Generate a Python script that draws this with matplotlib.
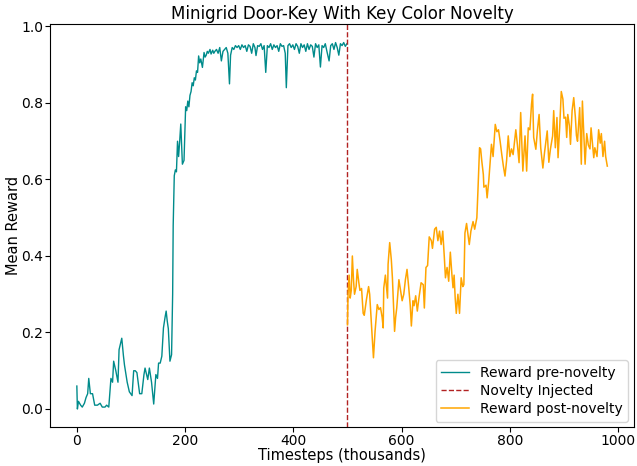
import numpy as np
import matplotlib.pyplot as plt

# pre-novelty reward (timesteps in thousands, mean reward)
pre_x = [0, 1, 3, 7, 10, 14, 17, 20, 22, 25, 29, 33, 38, 43, 47, 52, 55, 59, 63, 66,
         68, 72, 76, 78, 83, 86, 88, 93, 97, 102, 105, 108, 111, 116, 120, 124, 126, 131, 134, 138,
         142, 146, 149, 151, 154, 157, 160, 163, 165, 167, 169, 172, 175, 177, 178, 180, 182, 184, 186, 188,
         190, 192, 195, 198, 201, 203, 205, 207, 209, 211, 213, 215, 217, 219, 221, 223, 225, 227, 229, 232,
         235, 237, 239, 241, 243, 246, 248, 251, 253, 255, 258, 261, 264, 267, 270, 273, 276, 279, 282, 284,
         287, 290, 293, 296, 299, 302, 305, 308, 311, 314, 317, 320, 323, 326, 329, 331, 334, 337, 340, 343,
         346, 349, 352, 355, 358, 361, 364, 367, 370, 373, 376, 379, 382, 385, 387, 390, 393, 396, 399, 402,
         405, 408, 411, 414, 417, 420, 423, 426, 429, 432, 435, 438, 441, 444, 447, 450, 453, 456, 459, 462,
         466, 469, 472, 475, 478, 481, 484, 487, 490, 493, 496, 499]
pre_y = [0.06, 0.0, 0.02, 0.01, 0.005, 0.015, 0.03, 0.04, 0.08, 0.04, 0.04, 0.01, 0.01, 0.015, 0.005, 0.005, 0.01, 0.005, 0.08, 0.07,
         0.125, 0.10, 0.07, 0.155, 0.185, 0.14, 0.115, 0.07, 0.045, 0.035, 0.10, 0.10, 0.095, 0.04, 0.04, 0.09, 0.107, 0.077, 0.107, 0.07,
         0.013, 0.09, 0.08, 0.12, 0.12, 0.138, 0.212, 0.24, 0.256, 0.23, 0.21, 0.125, 0.142, 0.30, 0.48, 0.61, 0.625, 0.62, 0.70, 0.66,
         0.70, 0.745, 0.64, 0.65, 0.79, 0.78, 0.805, 0.79, 0.82, 0.83, 0.853, 0.845, 0.866, 0.86, 0.884, 0.88, 0.923, 0.905, 0.915, 0.893,
         0.932, 0.92, 0.925, 0.935, 0.93, 0.94, 0.928, 0.938, 0.93, 0.935, 0.94, 0.93, 0.945, 0.91, 0.935, 0.94, 0.945, 0.93, 0.85, 0.925,
         0.945, 0.94, 0.95, 0.945, 0.95, 0.94, 0.952, 0.945, 0.95, 0.935, 0.952, 0.948, 0.93, 0.955, 0.945, 0.924, 0.95, 0.948, 0.955, 0.94,
         0.95, 0.88, 0.95, 0.945, 0.955, 0.94, 0.952, 0.945, 0.95, 0.935, 0.955, 0.948, 0.95, 0.93, 0.84, 0.95, 0.955, 0.945, 0.952, 0.94,
         0.955, 0.948, 0.93, 0.955, 0.945, 0.952, 0.935, 0.955, 0.94, 0.952, 0.948, 0.92, 0.955, 0.945, 0.952, 0.894, 0.95, 0.945, 0.955, 0.935,
         0.91, 0.95, 0.955, 0.94, 0.958, 0.945, 0.925, 0.955, 0.95, 0.958, 0.948, 0.955]

# post-novelty reward
post_x = [500, 501, 503, 505, 507, 509, 511, 513, 516, 518, 521, 523, 526, 529, 531, 535, 539, 541, 544, 546,
          548, 551, 555, 558, 561, 564, 566, 567, 570, 574, 575, 578, 581, 583, 587, 589, 591, 595, 598, 601,
          604, 607, 610, 613, 616, 618, 621, 623, 626, 629, 632, 636, 640, 642, 645, 648, 651, 655, 657, 661,
          664, 667, 670, 673, 676, 679, 681, 684, 687, 690, 693, 695, 697, 699, 701, 704, 707, 710, 713, 715,
          717, 720, 725, 728, 732, 735, 739, 741, 744, 746, 748, 751, 752, 756, 758, 761, 765, 766, 769, 773,
          776, 779, 782, 785, 788, 791, 794, 797, 800, 803, 806, 811, 814, 817, 820, 824, 828, 831, 834, 837,
          840, 842, 844, 848, 851, 854, 857, 861, 864, 869, 872, 875, 879, 881, 884, 887, 889, 892, 895, 898,
          900, 903, 905, 907, 910, 912, 915, 918, 921, 923, 925, 929, 932, 934, 936, 939, 942, 945, 948, 950,
          953, 955, 957, 961, 964, 967, 969, 972, 975, 977, 980]
post_y = [0.22, 0.30, 0.35, 0.29, 0.31, 0.40, 0.34, 0.30, 0.32, 0.365, 0.33, 0.31, 0.315, 0.25, 0.245, 0.286, 0.32, 0.30, 0.225, 0.18,
          0.134, 0.204, 0.273, 0.26, 0.265, 0.24, 0.212, 0.316, 0.35, 0.29, 0.378, 0.435, 0.39, 0.343, 0.203, 0.24, 0.264, 0.338, 0.31, 0.283,
          0.30, 0.338, 0.365, 0.32, 0.27, 0.217, 0.283, 0.27, 0.296, 0.256, 0.29, 0.33, 0.325, 0.264, 0.37, 0.375, 0.45, 0.44, 0.42, 0.47,
          0.475, 0.44, 0.465, 0.43, 0.465, 0.395, 0.343, 0.37, 0.334, 0.41, 0.35, 0.317, 0.35, 0.29, 0.25, 0.30, 0.25, 0.343, 0.32, 0.325,
          0.46, 0.485, 0.43, 0.465, 0.49, 0.47, 0.50, 0.57, 0.683, 0.68, 0.65, 0.613, 0.58, 0.585, 0.552, 0.596, 0.675, 0.692, 0.66, 0.744,
          0.725, 0.73, 0.70, 0.666, 0.635, 0.609, 0.65, 0.714, 0.66, 0.68, 0.665, 0.73, 0.69, 0.644, 0.775, 0.622, 0.714, 0.622, 0.735, 0.73,
          0.797, 0.823, 0.71, 0.679, 0.73, 0.77, 0.683, 0.63, 0.67, 0.727, 0.645, 0.68, 0.714, 0.78, 0.683, 0.762, 0.657, 0.735, 0.83, 0.81,
          0.76, 0.763, 0.71, 0.77, 0.74, 0.692, 0.78, 0.814, 0.763, 0.715, 0.70, 0.788, 0.64, 0.805, 0.74, 0.64, 0.72, 0.69, 0.68, 0.735,
          0.69, 0.657, 0.683, 0.66, 0.73, 0.695, 0.72, 0.66, 0.70, 0.66, 0.635]

novelty_step = 500

fig = plt.figure(figsize=(6.37, 4.66), dpi=100)
ax = plt.axes()
fig.subplots_adjust(left=0.079, right=0.995, top=0.948, bottom=0.083)

ax.plot(pre_x, pre_y, '-', color='darkcyan', lw=1, label='Reward pre-novelty')
ax.axvline(novelty_step, color='firebrick', ls='--', lw=1, label='Novelty Injected')
ax.plot(post_x, post_y, '-', color='orange', lw=1.1, label='Reward post-novelty')

ax.set_title('Minigrid Door-Key With Key Color Novelty', fontsize=12, pad=4)
ax.set_xlabel('Timesteps (thousands)', fontsize=10.5, labelpad=0)
ax.set_ylabel('Mean Reward', fontsize=10.5, labelpad=0)
ax.tick_params(labelsize=10, pad=1.5)
ax.legend(loc='lower right', fontsize=10, labelspacing=0.3, borderaxespad=0.4)

plt.savefig('out.png')
